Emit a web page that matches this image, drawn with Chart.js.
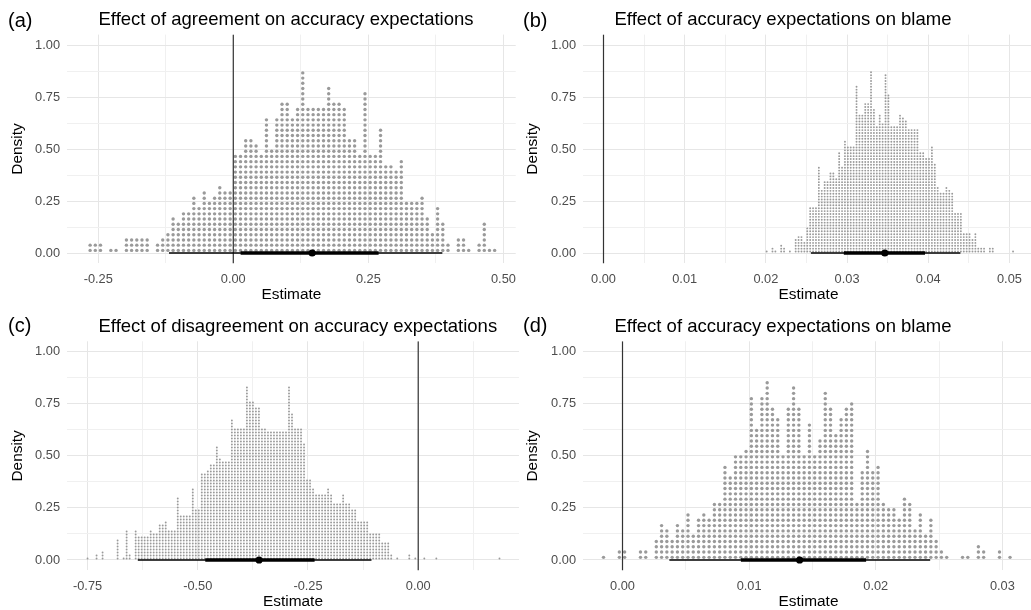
<!DOCTYPE html>
<html>
<head>
<meta charset="utf-8">
<script src="https://cdn.jsdelivr.net/npm/chart.js@4.4.1/dist/chart.umd.min.js"></script>
<style>
  html, body { margin: 0; padding: 0; background: #fff; width: 1031px; height: 610px; overflow: hidden; position: relative; }
  canvas { position: absolute; }
</style>
</head>
<body>
<canvas id="pa"></canvas>
<canvas id="pb"></canvas>
<canvas id="pc"></canvas>
<canvas id="pd"></canvas>
<script>
// ---- (a) Effect of agreement on accuracy expectations ----
const titleA = 'Effect of agreement on accuracy expectations';
const binStartA = -0.265, binWidthA = 0.0096, dotStepA = 0.0251;
const countsA = [
  2,2,2,0,1,1,0,3,3,3,
  3,3,0,2,3,4,7,6,8,8,
  11,9,12,10,11,13,12,12,19,19,
  22,22,21,19,26,20,26,29,29,26,
  28,35,28,28,28,28,32,29,29,28,
  22,22,19,31,19,19,24,17,17,16,
  18,10,10,10,11,7,4,9,6,2,
  0,3,3,1,0,2,6,1,1
];
const outerA = [-0.119, 0.387];
const innerA = [0.0136, 0.269];
const medianA = 0.146;
const xRangeA = [-0.3078, 0.5228];
const xTicksA = [-0.25, 0, 0.25, 0.5];
const xLabelsA = ['-0.25', '0.00', '0.25', '0.50'];

// ---- (b) Effect of accuracy expectations on blame ----
const titleB = 'Effect of accuracy expectations on blame';
const binStartB = 0.0201, binWidthB = 0.000357, dotStepB = 0.0139;
const countsB = [
  1,0,2,1,0,3,2,0,1,0,
  5,6,6,4,9,16,16,16,30,22,
  25,25,28,28,26,35,30,39,37,37,
  37,58,48,48,52,52,63,50,44,48,
  45,62,55,44,44,44,48,47,46,43,
  43,43,43,35,35,33,33,37,31,23,
  21,21,23,22,21,14,14,14,7,7,
  7,5,7,2,2,2,0,2,2,0,
  0,0,0,0,0,1
];
const outerB = [0.02555, 0.04396];
const innerB = [0.0296, 0.0396];
const medianB = 0.03465;
const xRangeB = [-0.002525, 0.053025];
const xTicksB = [0, 0.01, 0.02, 0.03, 0.04, 0.05];
const xLabelsB = ['0.00', '0.01', '0.02', '0.03', '0.04', '0.05'];

// ---- (c) Effect of disagreement on accuracy expectations ----
const titleC = 'Effect of disagreement on accuracy expectations';
const binStartC = -0.75, binWidthC = 0.00682, dotStepC = 0.0144;
const countsC = [
  1,0,0,2,0,3,0,0,0,0,
  7,0,1,10,2,0,10,8,8,8,
  8,10,9,9,12,12,13,10,10,10,
  21,15,15,15,15,24,17,17,29,29,
  30,32,32,38,34,33,33,33,47,44,
  44,44,44,58,53,53,51,51,44,44,
  43,43,43,43,43,43,43,58,49,44,
  44,44,39,27,27,24,22,22,22,22,
  24,22,19,19,19,22,19,19,17,17,
  13,13,13,13,9,9,9,9,6,6,
  6,2,0,1,0,0,0,2,0,1,
  0,0,1,0,0,0,1,0,0,0,
  0,0,0,0,0,0,0,0,0,0,
  0,0,0,0,0,0,0,1
];
const outerC = [-0.636, -0.106];
const innerC = [-0.483, -0.235];
const medianC = -0.361;
const xRangeC = [-0.7966, 0.2286];
const xTicksC = [-0.75, -0.5, -0.25, 0];
const xLabelsC = ['-0.75', '-0.50', '-0.25', '0.00'];

// ---- (d) Effect of accuracy expectations on blame ----
const titleD = 'Effect of accuracy expectations on blame';
const binStartD = -0.0015, binWidthD = 0.000417, dotStepD = 0.0254;
const countsD = [
  1,0,0,2,2,0,0,2,2,0,
  4,7,6,4,7,6,9,5,8,9,
  8,11,11,18,16,20,20,21,31,25,
  31,34,29,27,20,29,33,29,20,26,
  20,23,32,29,24,27,29,30,11,17,
  21,17,18,11,10,10,8,12,11,6,
  9,5,8,4,2,1,0,0,1,1,
  0,3,2,0,0,2,0,1
];
const outerD = [0.0037, 0.0243];
const innerD = [0.00935, 0.01924];
const medianD = 0.01399;
const xRangeD = [-0.00312, 0.0325];
const xTicksD = [0, 0.01, 0.02, 0.03];
const xLabelsD = ['0.00', '0.01', '0.02', '0.03'];

// shared density axis
const yRange = [-0.05, 1.05];
const yTicks = [0, 0.25, 0.5, 0.75, 1];
const yLabels = ['0.00', '0.25', '0.50', '0.75', '1.00'];

const FONT = '"Liberation Sans", Arial, Helvetica, sans-serif';
const DOT_COLOR = '#9a9a9a';
const GRID_MAJOR = '#e6e6e6';
const GRID_MINOR = '#f0f0f0';

const panels = [
  { id: 'pa', tag: '(a)', title: titleA, counts: countsA, binStart: binStartA, binWidth: binWidthA, dotStep: dotStepA,
    dotRadius: 1.7, outer: outerA, inner: innerA, median: medianA, xRange: xRangeA, xTicks: xTicksA, xLabels: xLabelsA,
    canvas: { x: 0, y: 0, w: 524, h: 305 }, area: { left: 67, top: 34.6, right: 519, bottom: 263.4 } },
  { id: 'pb', tag: '(b)', title: titleB, counts: countsB, binStart: binStartB, binWidth: binWidthB, dotStep: dotStepB,
    dotRadius: 0.95, outer: outerB, inner: innerB, median: medianB, xRange: xRangeB, xTicks: xTicksB, xLabels: xLabelsB,
    canvas: { x: 515, y: 0, w: 530, h: 305 }, area: { left: 583, top: 34.6, right: 1034, bottom: 263.4 } },
  { id: 'pc', tag: '(c)', title: titleC, counts: countsC, binStart: binStartC, binWidth: binWidthC, dotStep: dotStepC,
    dotRadius: 0.95, outer: outerC, inner: innerC, median: medianC, xRange: xRangeC, xTicks: xTicksC, xLabels: xLabelsC,
    canvas: { x: 0, y: 305, w: 524, h: 305 }, area: { left: 67, top: 341.3, right: 519, bottom: 570.4 } },
  { id: 'pd', tag: '(d)', title: titleD, counts: countsD, binStart: binStartD, binWidth: binWidthD, dotStep: dotStepD,
    dotRadius: 1.7, outer: outerD, inner: innerD, median: medianD, xRange: xRangeD, xTicks: xTicksD, xLabels: xLabelsD,
    canvas: { x: 515, y: 305, w: 530, h: 305 }, area: { left: 583, top: 341.3, right: 1034, bottom: 570.4 } }
];

// major ticks plus the half-way minor gridlines inside the axis range
function withMinors(majors, range) {
  const step = majors[1] - majors[0];
  const vals = [];
  for (let i = -1; i < majors.length; i++) {
    const base = i < 0 ? majors[0] - step : majors[i];
    if (i >= 0) vals.push({ value: majors[i], minor: false });
    const mid = base + step / 2;
    if (mid >= range[0] && mid <= range[1]) vals.push({ value: mid, minor: true });
  }
  return vals.sort((a, b) => a.value - b.value);
}

const panelText = {
  id: 'panelText',
  afterDraw(chart, args, opts) {
    const { ctx, chartArea: a } = chart;
    ctx.save();
    ctx.fillStyle = '#000';
    ctx.textBaseline = 'alphabetic';
    ctx.textAlign = 'left';
    ctx.font = '20px ' + FONT;
    ctx.fillText(opts.tag, 8, 27);
    ctx.font = '18.5px ' + FONT;
    ctx.fillText(opts.title, a.left + 31.5, a.top - 9.6);
    ctx.font = '15.4px ' + FONT;
    ctx.textAlign = 'center';
    ctx.fillText('Estimate', (a.left + a.right) / 2, a.bottom + 36);
    ctx.translate(21.5, (a.top + a.bottom) / 2);
    ctx.rotate(-Math.PI / 2);
    ctx.fillText('Density', 0, 0);
    ctx.restore();
  }
};

panels.forEach(p => {
  const cv = document.getElementById(p.id);
  cv.width = p.canvas.w;
  cv.height = p.canvas.h;
  cv.style.left = p.canvas.x + 'px';
  cv.style.top = p.canvas.y + 'px';

  // stacked dots: one column per bin, one dot per draw
  const dots = [];
  p.counts.forEach((n, i) => {
    const x = p.binStart + i * p.binWidth;
    for (let k = 0; k < n; k++) dots.push({ x: x, y: (k + 0.5) * p.dotStep });
  });

  const xTickList = withMinors(p.xTicks, p.xRange);
  const yTickList = withMinors(yTicks, yRange);
  const isMinorX = v => xTickList.some(t => t.minor && Math.abs(t.value - v) < 1e-9);
  const isMinorY = v => yTickList.some(t => t.minor && Math.abs(t.value - v) < 1e-9);
  const labelFor = (vals, labels, v) => {
    const idx = vals.findIndex(t => Math.abs(t - v) < 1e-9);
    return idx >= 0 ? labels[idx] : '';
  };

  const a = p.area, c = p.canvas;
  new Chart(cv, {
    type: 'scatter',
    data: {
      datasets: [
        { data: dots, pointRadius: p.dotRadius, pointBorderWidth: 0, pointBackgroundColor: DOT_COLOR, order: 4 },
        { data: [{ x: 0, y: yRange[0] }, { x: 0, y: yRange[1] }], showLine: true, borderColor: '#333333',
          borderWidth: 1.2, pointRadius: 0, order: 3 },
        { data: [{ x: p.outer[0], y: 0 }, { x: p.outer[1], y: 0 }], showLine: true, borderColor: '#000',
          borderWidth: 1.5, pointRadius: 0, order: 2 },
        { data: [{ x: p.inner[0], y: 0 }, { x: p.inner[1], y: 0 }], showLine: true, borderColor: '#000',
          borderWidth: 3.4, pointRadius: 0, order: 1 },
        { data: [{ x: p.median, y: 0 }], pointRadius: 3.6, pointBorderWidth: 0, pointBackgroundColor: '#000', order: 0 }
      ]
    },
    options: {
      responsive: false,
      animation: false,
      events: [],
      devicePixelRatio: 1,
      layout: {
        autoPadding: false,
        padding: { left: 0, top: a.top - c.y, right: c.x + c.w - a.right, bottom: 0 }
      },
      plugins: {
        legend: { display: false },
        tooltip: { enabled: false },
        panelText: { tag: p.tag, title: p.title }
      },
      scales: {
        x: {
          type: 'linear',
          min: p.xRange[0],
          max: p.xRange[1],
          border: { display: false },
          afterBuildTicks: s => { s.ticks = xTickList.map(t => ({ value: t.value })); },
          afterFit: s => { s.height = c.y + c.h - a.bottom; },
          grid: {
            drawTicks: false,
            color: ctx => isMinorX(ctx.tick.value) ? GRID_MINOR : GRID_MAJOR,
            lineWidth: 1
          },
          ticks: {
            padding: 8,
            color: '#4d4d4d',
            font: { family: FONT, size: 12.8 },
            maxRotation: 0,
            autoSkip: false,
            callback: v => labelFor(p.xTicks, p.xLabels, v)
          }
        },
        y: {
          type: 'linear',
          min: yRange[0],
          max: yRange[1],
          border: { display: false },
          afterBuildTicks: s => { s.ticks = yTickList.map(t => ({ value: t.value })); },
          afterFit: s => { s.width = a.left - c.x; },
          grid: {
            drawTicks: false,
            color: ctx => isMinorY(ctx.tick.value) ? GRID_MINOR : GRID_MAJOR,
            lineWidth: 1
          },
          ticks: {
            padding: 7,
            color: '#4d4d4d',
            font: { family: FONT, size: 12.8 },
            autoSkip: false,
            callback: v => labelFor(yTicks, yLabels, v)
          }
        }
      }
    },
    plugins: [panelText]
  });
});
</script>
</body>
</html>
